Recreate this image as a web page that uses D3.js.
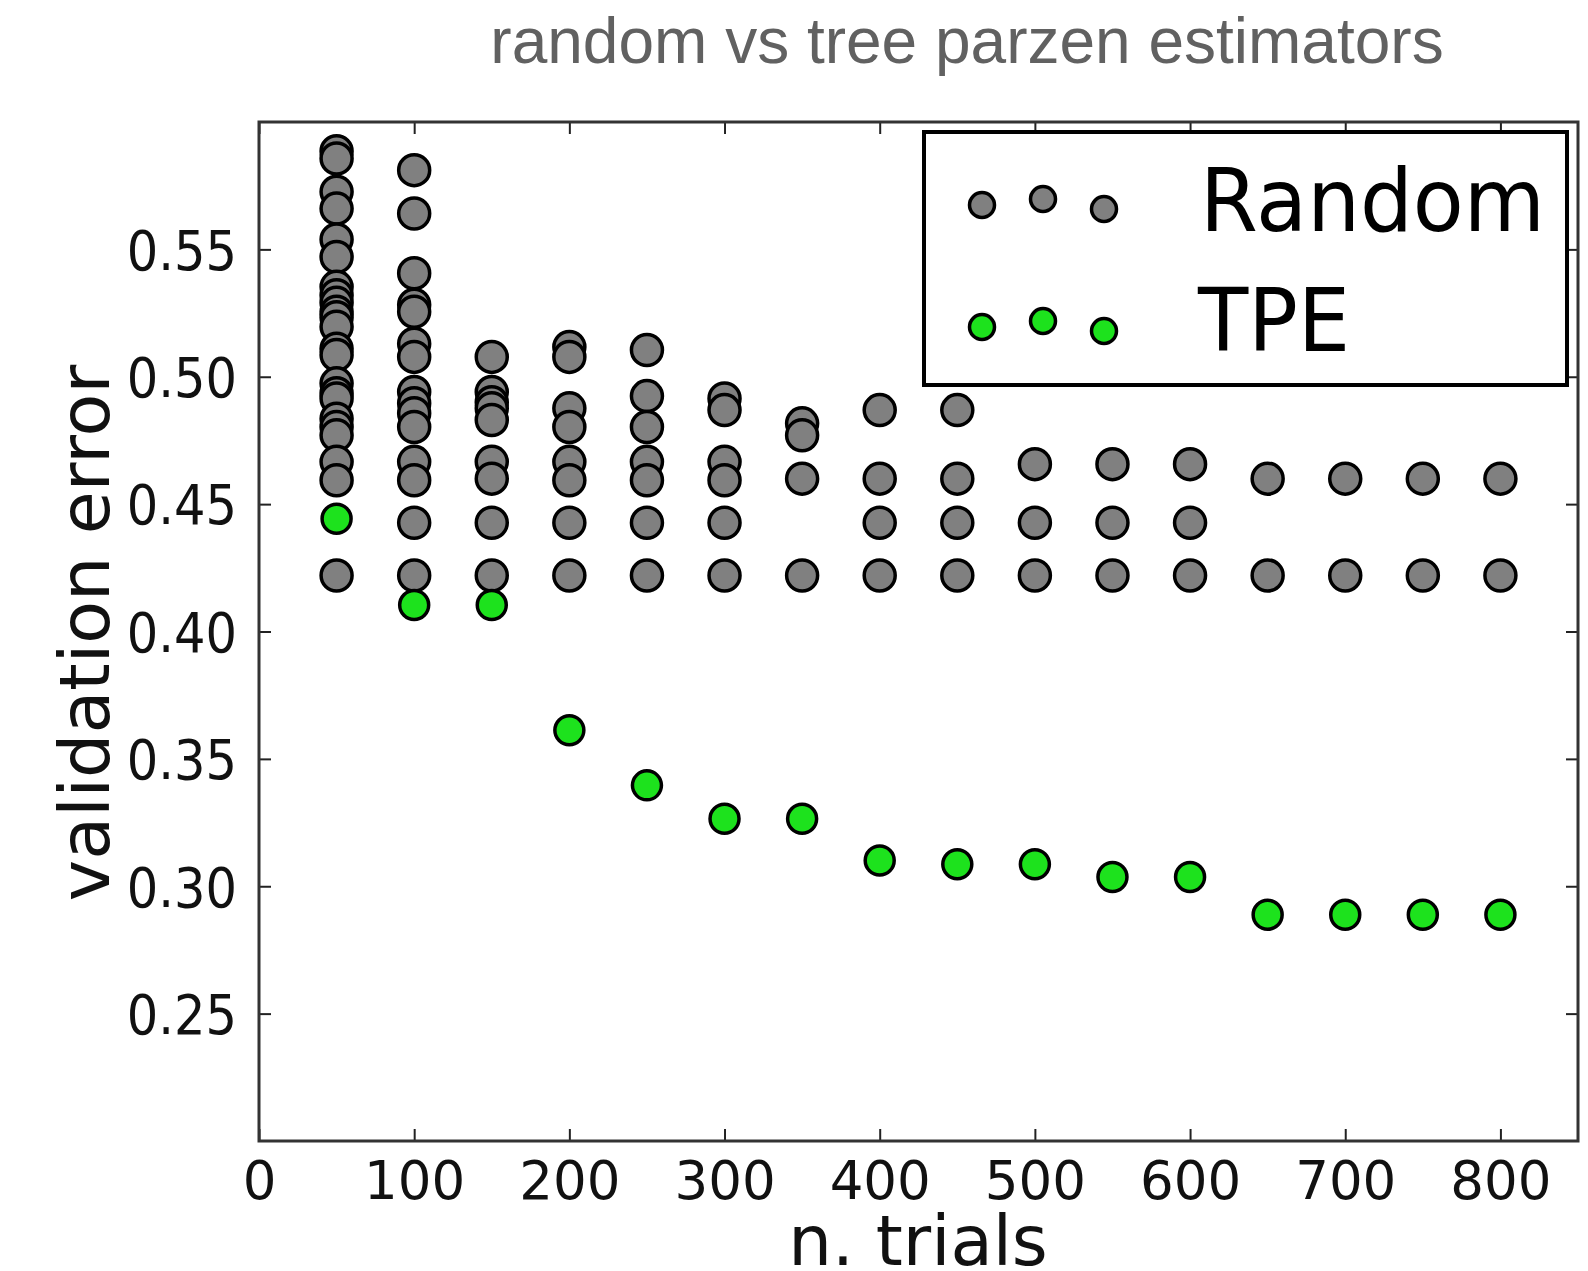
<!DOCTYPE html>
<html>
<head>
<meta charset="utf-8">
<script src="https://cdn.jsdelivr.net/npm/d3@7"></script>
<style>
  body { margin:0; background:#fff; }
  svg { display:block; }
</style>
</head>
<body>
<svg></svg>
<script>
var trials = [50,100,150,200,250,300,350,400,450,500,550,600,650,700,750,800];

// validation error of every random-search trial, one list per n. trials
var randomErrors = [
  [0.5885,0.5857,0.5726,0.566,0.5539,0.547,0.5353,0.532,0.529,0.5255,0.5234,0.5196,0.511,0.5085,0.4974,0.4935,0.4915,0.4835,0.4803,0.477,0.4666,0.4594,0.422],
  [0.5811,0.5641,0.5406,0.5283,0.5255,0.513,0.5078,0.494,0.4896,0.4857,0.4803,0.4666,0.4594,0.4427,0.422],
  [0.5078,0.494,0.490,0.4876,0.483,0.4666,0.46,0.4427,0.422],
  [0.5117,0.5078,0.4876,0.4803,0.4666,0.4594,0.4427,0.422],
  [0.5105,0.4924,0.4803,0.4666,0.4594,0.4427,0.422],
  [0.4915,0.4869,0.4666,0.4594,0.4427,0.422],
  [0.4817,0.477,0.46,0.422],
  [0.4869,0.46,0.4427,0.422],
  [0.4869,0.46,0.4427,0.422],
  [0.4657,0.4427,0.422],
  [0.4657,0.4427,0.422],
  [0.4657,0.4427,0.422],
  [0.46,0.422],
  [0.46,0.422],
  [0.46,0.422],
  [0.46,0.422]
];

var tpeErrors = [0.4443,0.4104,0.4104,0.3612,0.3396,0.3265,0.3265,0.3101,0.3086,0.3086,0.3036,0.3036,0.2888,0.2888,0.2888,0.2888];

var xTicks = [0,100,200,300,400,500,600,700,800];
var yTicks = [0.25,0.30,0.35,0.40,0.45,0.50,0.55];
var seriesNames = ["Random","TPE"];
var seriesColors = ["#808080","#1de21d"];

var svg = d3.select("svg")
            .attr("width", 1588)
            .attr("height", 1271);

var margins = {left:259, right:10, top:122, bottom:130};
var width = 1588 - margins.left - margins.right;
var height = 1271 - margins.top - margins.bottom;

var xScale = d3.scaleLinear()
               .domain([0,850])
               .range([margins.left, margins.left + width]);

var yScale = d3.scaleLinear()
               .domain([0.2,0.6])
               .range([margins.top + height, margins.top]);

// flatten random trials into points
var randomPoints = [];
trials.forEach(function(t,i) {
  randomErrors[i].forEach(function(e) {
    randomPoints.push({x:t, y:e});
  });
});
var tpePoints = trials.map(function(t,i) { return {x:t, y:tpeErrors[i]}; });

// title
svg.append("text")
   .attr("x", 967)
   .attr("y", 63)
   .attr("text-anchor", "middle")
   .attr("font-family", "Liberation Sans, Arial, sans-serif")
   .attr("font-size", 64)
   .attr("fill", "#616161")
   .text("random vs tree parzen estimators");

// axes with inward ticks, mirrored on top and right
var tickFont = "DejaVu Sans, sans-serif";

var xAxis = d3.axisBottom(xScale)
              .tickValues(xTicks)
              .tickSizeInner(-12)
              .tickSizeOuter(0)
              .tickPadding(20)
              .tickFormat(d3.format("d"));

var yAxis = d3.axisLeft(yScale)
              .tickValues(yTicks)
              .tickSizeInner(-12)
              .tickSizeOuter(0)
              .tickPadding(22)
              .tickFormat(d3.format(".2f"));

var gx = svg.append("g")
            .attr("transform", "translate(0," + (margins.top + height) + ")")
            .call(xAxis);
var gy = svg.append("g")
            .attr("transform", "translate(" + margins.left + ",0)")
            .call(yAxis);

var gxTop = svg.append("g")
               .attr("transform", "translate(0," + margins.top + ")")
               .call(d3.axisTop(xScale).tickValues(xTicks).tickSizeInner(-12).tickSizeOuter(0).tickFormat(""));
var gyRight = svg.append("g")
                 .attr("transform", "translate(" + (margins.left + width) + ",0)")
                 .call(d3.axisRight(yScale).tickValues(yTicks).tickSizeInner(-12).tickSizeOuter(0).tickFormat(""));

[gx,gy,gxTop,gyRight].forEach(function(g) {
  g.select(".domain").remove();
  g.selectAll(".tick line").attr("stroke", "#222").attr("stroke-width", 2);
  g.selectAll(".tick text")
   .attr("font-family", tickFont)
   .attr("font-size", 53)
   .attr("fill", "#111");
});
gy.selectAll(".tick text")
  .attr("font-family", "DejaVu Sans Condensed, DejaVu Sans, sans-serif")
  .attr("font-size", 55)
  .attr("dy", "0.36em");

// frame
svg.append("rect")
   .attr("x", margins.left)
   .attr("y", margins.top)
   .attr("width", width)
   .attr("height", height)
   .attr("fill", "none")
   .attr("stroke", "#333")
   .attr("stroke-width", 3);

// axis titles
svg.append("text")
   .attr("x", 918)
   .attr("y", 1265)
   .attr("text-anchor", "middle")
   .attr("font-family", tickFont)
   .attr("font-size", 69)
   .attr("fill", "#111")
   .text("n. trials");

svg.append("text")
   .attr("transform", "translate(109,633) rotate(-90)")
   .attr("text-anchor", "middle")
   .attr("font-family", tickFont)
   .attr("font-size", 70)
   .attr("fill", "#111")
   .text("validation error");

// points
svg.append("g")
   .selectAll("circle")
   .data(randomPoints)
   .enter()
   .append("circle")
   .attr("cx", function(d) { return xScale(d.x); })
   .attr("cy", function(d) { return yScale(d.y); })
   .attr("r", 15.5)
   .attr("fill", seriesColors[0])
   .attr("stroke", "#000")
   .attr("stroke-width", 3.5);

svg.append("g")
   .selectAll("circle")
   .data(tpePoints)
   .enter()
   .append("circle")
   .attr("cx", function(d) { return xScale(d.x); })
   .attr("cy", function(d) { return yScale(d.y); })
   .attr("r", 14.5)
   .attr("fill", seriesColors[1])
   .attr("stroke", "#000")
   .attr("stroke-width", 3.5);

// legend
var legend = svg.append("g");
legend.append("rect")
      .attr("x", 924)
      .attr("y", 132)
      .attr("width", 643)
      .attr("height", 253)
      .attr("fill", "#fff")
      .attr("stroke", "#000")
      .attr("stroke-width", 4);

var legendDx = [982,1043,1104];
var legendDy = [0,-6,4];
var legendRows = [205,327];
var legendText = [
  {x:1200, y:231, len:345},
  {x:1198, y:351, len:152}
];

seriesNames.forEach(function(name,i) {
  legend.selectAll(".m" + i)
        .data(legendDx)
        .enter()
        .append("circle")
        .attr("cx", function(d) { return d; })
        .attr("cy", function(d,j) { return legendRows[i] + legendDy[j]; })
        .attr("r", 12.5)
        .attr("fill", seriesColors[i])
        .attr("stroke", "#000")
        .attr("stroke-width", 3.5);
  legend.append("text")
        .attr("x", legendText[i].x)
        .attr("y", legendText[i].y)
        .attr("font-family", tickFont)
        .attr("font-size", 87)
        .attr("fill", "#000")
        .attr("textLength", legendText[i].len)
        .attr("lengthAdjust", "spacingAndGlyphs")
        .text(name);
});
</script>
</body>
</html>
